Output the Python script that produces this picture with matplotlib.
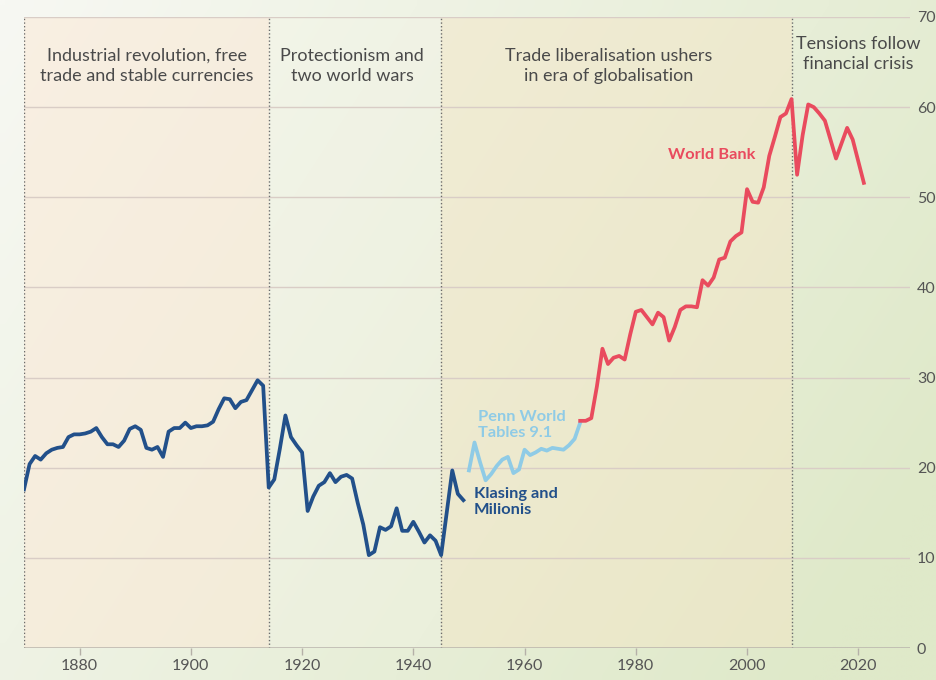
import numpy as np
import matplotlib
matplotlib.use("Agg")
import matplotlib.pyplot as plt
from matplotlib.colors import to_rgb

plt.rcParams['font.family'] = ['Lato', 'DejaVu Sans']

# ---------------- data ----------------
klasing_years = list(range(1870, 1950))
klasing_values = [17.6, 20.4, 21.3, 20.9, 21.6, 22.0, 22.2, 22.3, 23.4, 23.7,
                  23.7, 23.8, 24.0, 24.4, 23.4, 22.6, 22.6, 22.3, 23.0, 24.3,
                  24.6, 24.2, 22.2, 22.0, 22.3, 21.2, 24.0, 24.4, 24.4, 25.0,
                  24.4, 24.6, 24.6, 24.7, 25.1, 26.5, 27.7, 27.6, 26.6, 27.3,
                  27.5, 28.6, 29.7, 29.1, 17.8, 18.7, 22.1, 25.8, 23.4, 22.5,
                  21.7, 15.2, 16.8, 18.0, 18.4, 19.4, 18.4, 19.0, 19.2, 18.8,
                  16.1, 13.7, 10.3, 10.7, 13.4, 13.1, 13.5, 15.5, 13.0, 13.0,
                  14.0, 12.9, 11.7, 12.5, 11.9, 10.3, 15.0, 19.7, 17.1, 16.4]

penn_years = list(range(1950, 1971))
penn_values = [19.7, 22.8, 20.6, 18.6, 19.3, 20.2, 20.9, 21.2, 19.4, 19.8,
               22.0, 21.4, 21.7, 22.1, 21.9, 22.2, 22.1, 22.0, 22.5, 23.2, 25.0]

wb_years = list(range(1970, 2022))
wb_values = [25.2, 25.2, 25.5, 29.0, 33.2, 31.5, 32.2, 32.4, 32.0, 34.8,
             37.3, 37.5, 36.7, 35.9, 37.2, 36.7, 34.1, 35.6, 37.5, 37.9,
             37.9, 37.8, 40.8, 40.2, 41.1, 43.1, 43.3, 45.1, 45.7, 46.1,
             50.9, 49.5, 49.4, 51.1, 54.6, 56.7, 58.9, 59.3, 60.9, 52.5,
             56.9, 60.3, 60.0, 59.3, 58.5, 56.4, 54.3, 56.0, 57.7, 56.4,
             54.0, 51.6]

era_bounds = [1870, 1914, 1945, 2008, 2029.3]
era_labels = ["Industrial revolution, free\ntrade and stable currencies",
              "Protectionism and\ntwo world wars",
              "Trade liberalisation ushers\nin era of globalisation",
              "Tensions follow\nfinancial crisis"]
x_ticks = [1880, 1900, 1920, 1940, 1960, 1980, 2000, 2020]
y_ticks = [0, 10, 20, 30, 40, 50, 60, 70]

# ---------------- figure ----------------
W, H = 937, 680
fig = plt.figure(figsize=(W / 100, H / 100), dpi=100)

# gradient background
bg = fig.add_axes([0, 0, 1, 1], zorder=-10)
bg.set_axis_off()
ny, nx = 68, 94
yy, xx = np.mgrid[0:1:ny * 1j, 0:1:nx * 1j]
t = np.clip(0.75 * xx + 0.35 * yy, 0, 1)
c0 = np.array(to_rgb('#f7f8f3'))
c1 = np.array(to_rgb('#dfe9c9'))
img = c0[None, None, :] * (1 - t[..., None]) + c1[None, None, :] * t[..., None]
bg.imshow(img, aspect='auto', extent=[0, 1, 0, 1], origin='upper', interpolation='bilinear')
bg.set_xlim(0, 1)
bg.set_ylim(0, 1)

ax = fig.add_axes([24 / W, 1 - 648 / H, (910 - 24) / W, (648 - 17) / H])
ax.set_facecolor('none')
ax.set_xlim(1870, 2029.3)
ax.set_ylim(0, 70)

# era tints
tints = [('#fbe9d6', 0.55), ('#f4f4e6', 0.35), ('#f3e6c6', 0.5), ('#e3ecce', 0.0)]
for i, (col, a) in enumerate(tints):
    if a > 0:
        ax.axvspan(era_bounds[i], era_bounds[i + 1], color=col, alpha=a, lw=0, zorder=0)

# gridlines
for yv in y_ticks[1:]:
    ax.axhline(yv, color='#d9cdc6', lw=1.0, zorder=1)

# dividers
for xv in era_bounds[:4]:
    ax.plot([xv, xv], [0, 70], color='#6b6b6b', lw=1.0, ls=(0, (1, 1.6)), zorder=2)

# x axis baseline
ax.axhline(0, color='#b9b4ac', lw=1.8, zorder=3)

# series
lw = 2.7
ax.plot(klasing_years, klasing_values, color='#22508a', lw=lw, zorder=5)
ax.plot(penn_years, penn_values, color='#8fcbe6', lw=lw, zorder=5)
ax.plot(wb_years, wb_values, color='#e94b5e', lw=lw, zorder=6)

# era labels
era_text_pos = [(1892.1, 64.6), (1929.0, 64.6), (1975.2, 64.6), (2020.0, 65.9)]
for (xv, yv), lab in zip(era_text_pos, era_labels):
    ax.text(xv, yv, lab, ha='center', va='center', fontsize=13, color='#4a4a4a',
            linespacing=1.32, zorder=7)

# series labels
ax.text(1951.7, 24.7, "Penn World\nTables 9.1", color='#8fcbe6', fontsize=11.8,
        fontweight='bold', ha='left', va='center', linespacing=1.18, zorder=7)
ax.text(1950.9, 16.2, "Klasing and\nMilionis", color='#22508a', fontsize=11.8,
        fontweight='bold', ha='left', va='center', linespacing=1.18, zorder=7)
ax.text(1985.8, 54.7, "World Bank", color='#e94b5e', fontsize=11.8,
        fontweight='bold', ha='left', va='center', zorder=7)

# axes styling
for s in ax.spines.values():
    s.set_visible(False)
ax.set_xticks(x_ticks)
ax.set_xticklabels([str(v) for v in x_ticks])
ax.tick_params(axis='x', length=5, width=1, color='#b5b0a8', labelsize=11.5,
               labelcolor='#555555', pad=3)
ax.yaxis.tick_right()
ax.set_yticks(y_ticks)
ax.tick_params(axis='y', length=0, labelsize=11.5, labelcolor='#555555', pad=5)

fig.savefig('out.png', dpi=100)
